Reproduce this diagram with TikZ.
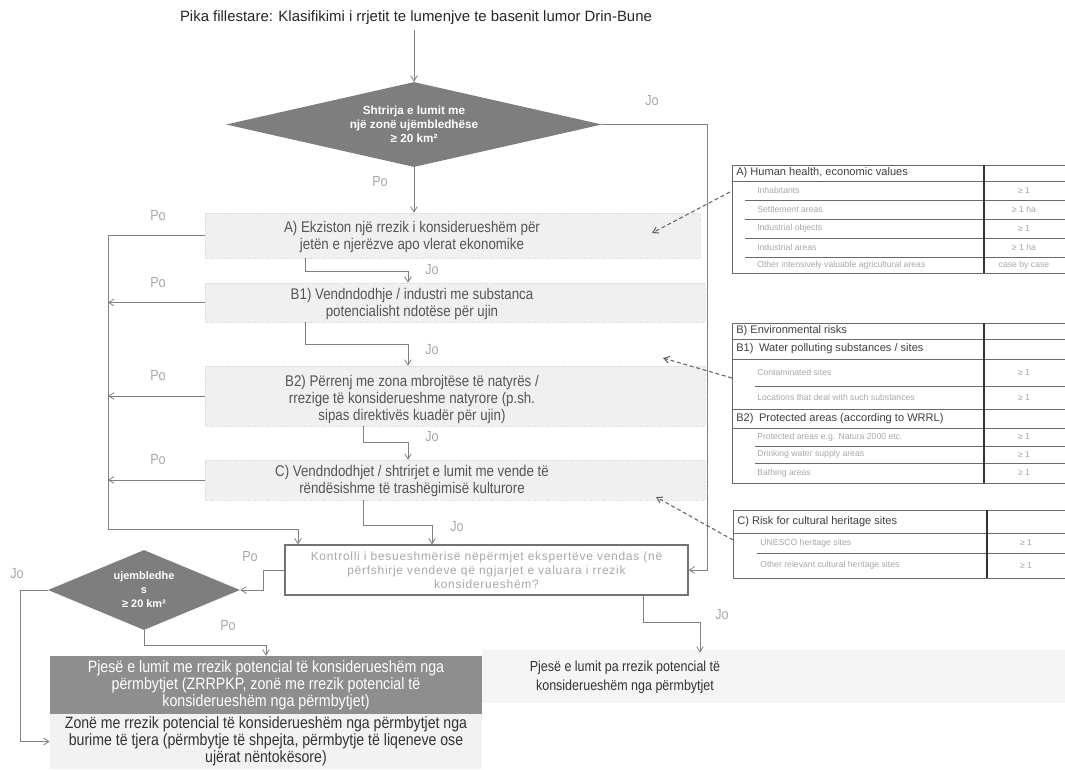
\documentclass[tikz,border=0pt]{standalone}
\usepackage{fontspec}
\setmainfont{Liberation Sans}
\newfontfamily\nar{Liberation Sans}[FakeStretch=0.86]
\newfontfamily\spaced{Liberation Sans}[LetterSpace=6]
\usetikzlibrary{shapes.geometric,arrows.meta}
\definecolor{lncol}{HTML}{808080}
\definecolor{lblcol}{HTML}{A8A8A8}
\definecolor{bandcol}{HTML}{F0F0F0}
\definecolor{dkfill}{HTML}{8E8E8E}
\definecolor{dmfill}{HTML}{7E7E7E}
\definecolor{txtcol}{HTML}{555555}
\definecolor{faint}{HTML}{A8A8A8}
\definecolor{tblcol}{HTML}{6A6A6A}
\begin{document}
\begin{tikzpicture}[x=0.75pt,y=-0.75pt,
  conn/.style={draw=lncol, line width=0.6pt},
  arr/.style={conn, -{Straight Barb[length=4pt,width=5pt]}},
  dasharr/.style={draw=black!60, line width=0.8pt, dash pattern=on 3pt off 2pt, -{Straight Barb[length=4pt,width=5pt]}},
  lbl/.style={font=\nar\fontsize{11}{12}\selectfont, text=lblcol, inner sep=0pt},
  band/.style={fill=bandcol, draw=black!15, densely dotted, inner sep=0pt},
  btxt/.style={font=\nar\fontsize{11.6}{12.75}\selectfont, text=txtcol, align=center, inner sep=0pt},
  dec/.style={diamond, fill=dmfill, draw=none, inner sep=0pt, text=white, align=center, font=\bfseries\fontsize{8.8}{10.5}\selectfont},
  ctrlbox/.style={draw=black!55, line width=0.9pt, fill=white, text=faint, align=center, font=\spaced\fontsize{9}{10.5}\selectfont},
  tline/.style={draw=tblcol, line width=0.6pt},
  thead/.style={anchor=west, font=\fontsize{8.3}{9}\selectfont, text=black!75, inner sep=0pt},
  trow/.style={anchor=west, font=\fontsize{6.5}{8}\selectfont, text=faint, inner sep=0pt},
  tval/.style={font=\fontsize{6.5}{8}\selectfont, text=faint, inner sep=0pt}
]
\useasboundingbox (0,0) rectangle (1065,769);
\fill[white] (0,0) rectangle (1065,769);
\fill[black!4] (482,650) rectangle (1065,703);

% ---------- nodes ----------
\node[font=\fontsize{11.2}{13}\selectfont, text=black!85] (title) at (416,18) {Pika fillestare: Klasifikimi i rrjetit te lumenjve te basenit lumor Drin-Bune};
\node[dec, shape aspect=4.4, minimum width={376*0.75pt}, minimum height={85*0.75pt}] (d1) at (414,124.5) {Shtrirja e lumit me\\një zonë ujëmbledhëse\\≥ 20 km²};

\node[band, minimum width={495*0.75pt}, minimum height={45*0.75pt}] (Abg) at (452.5,235.5) {};
\node[btxt] (A) at (412,236.5) {A) Ekziston një rrezik i konsiderueshëm për\\jetën e njerëzve apo vlerat ekonomike};
\node[band, minimum width={500*0.75pt}, minimum height={39*0.75pt}] (B1bg) at (455,302.5) {};
\node[btxt] (B1) at (412,304) {B1) Vendndodhje / industri me substanca\\potencialisht ndotëse për ujin};
\node[band, minimum width={500*0.75pt}, minimum height={60*0.75pt}] (B2bg) at (455,396) {};
\node[btxt] (B2) at (412,399) {B2) Përrenj me zona mbrojtëse të natyrës /\\rrezige të konsiderueshme natyrore (p.sh.\\sipas direktivës kuadër për ujin)};
\node[band, minimum width={500*0.75pt}, minimum height={40*0.75pt}] (Cbg) at (455,480) {};
\node[btxt] (C) at (412,481) {C) Vendndodhjet / shtrirjet e lumit me vende të\\rëndësishme të trashëgimisë kulturore};

\node[ctrlbox, minimum width={403*0.75pt}, minimum height={50*0.75pt}] (ctrl) at (486.5,570) {Kontrolli i besueshmërisë nëpërmjet ekspertëve vendas (në\\përfshirje vendeve që ngjarjet e valuara i rrezik\\konsiderueshëm?};

\node[dec, shape aspect=2.4, minimum width={192*0.75pt}, minimum height={80*0.75pt}, font=\bfseries\fontsize{8.2}{10.5}\selectfont] (d2) at (144,590) {ujembledhe\\s\\≥ 20 km²};

\node[fill=dkfill, minimum width={432*0.75pt}, minimum height={58*0.75pt}, text=white, align=center, font=\nar\fontsize{12.4}{12.75}\selectfont, inner sep=0pt] (dark) at (266,685) {Pjesë e lumit me rrezik potencial të konsiderueshëm nga\\përmbytjet (ZRRPKP, zonë me rrezik potencial të\\konsiderueshëm nga përmbytjet)};
\node[fill=black!5, minimum width={432*0.75pt}, minimum height={55*0.75pt}, text=black!80, align=center, font=\nar\fontsize{12.3}{12.75}\selectfont, inner sep=0pt] (bot) at (266,741.5) {Zonë me rrezik potencial të konsiderueshëm nga përmbytjet nga\\burime të tjera (përmbytje të shpejta, përmbytje të liqeneve ose\\ujërat nëntokësore)};
\node[text=black!80, align=center, font=\nar\fontsize{10.9}{14}\selectfont, inner xsep=0pt, inner ysep=6pt] (rtext) at (625,677) {Pjesë e lumit pa rrezik potencial të\\konsiderueshëm nga përmbytjet};

% labels
\node[lbl] (jo1) at (652,101) {Jo};
\node[lbl] (po1) at (380,182) {Po};
\node[lbl] (poA) at (158,216) {Po};
\node[lbl] (poB1) at (158,283) {Po};
\node[lbl] (poB2) at (158,376) {Po};
\node[lbl] (poC) at (158,460) {Po};
\node[lbl] (joA) at (432,270) {Jo};
\node[lbl] (joB1) at (432,350) {Jo};
\node[lbl] (joB2) at (432,437) {Jo};
\node[lbl] (joC) at (457,527) {Jo};
\node[lbl] (poK) at (250,557) {Po};
\node[lbl] (joD) at (17,574) {Jo};
\node[lbl] (poD) at (228,626) {Po};
\node[lbl] (joK) at (722,615) {Jo};

% helper coordinates
\coordinate (rx) at (707,0);
\coordinate (lx) at (108,0);
\coordinate (lx2) at (20,0);
\coordinate (loopc) at (0,529);
\coordinate (px) at (298,0);
\coordinate (j1) at (305,0);
\coordinate (j2) at (363,0);
\coordinate (a1) at (408,0);
\coordinate (a2) at (432,0);
\coordinate (dx) at (266,0);
\coordinate (rj) at (643,0);
\coordinate (ra) at (700,0);

% ---------- connectors ----------
\draw[arr] (title.south -| d1.north) -- (d1.north);
\draw[arr] (d1.south) -- (Abg.north -| d1.south);
\draw[arr] (d1.east) -| (rx |- ctrl.east) -- (ctrl.east);

\draw[conn] (Abg.west) -- (lx |- Abg.west);
\draw[arr] (B1bg.west) -- (lx |- B1bg.west);
\draw[arr] (B2bg.west) -- (lx |- B2bg.west);
\draw[arr] (Cbg.west) -- (lx |- Cbg.west);
\draw[arr] (lx |- Abg.west) -- (lx |- loopc) -| (ctrl.north -| px);

\draw[arr] (Abg.south -| j1) -- ++(0,13) -| (B1bg.north -| a1);
\draw[arr] (B1bg.south -| j1) -- ++(0,22) -| (B2bg.north -| a1);
\draw[arr] (B2bg.south -| j2) -- ++(0,16) -| (Cbg.north -| a1);
\draw[arr] (Cbg.south -| j2) -- ++(0,25) -| (ctrl.north -| a2);

\draw[arr] (ctrl.west) -- ++(-21,0) |- (d2.east);
\draw[arr] (d2.west) -| (lx2 |- bot.west) -- (bot.west);
\draw[arr] (d2.south) -- ++(0,15) -| (dark.north -| dx);
\draw[arr] (ctrl.south -| rj) -- ++(0,27) -| (rtext.north -| ra);

% ---------- tables ----------
% Table A
\draw[tline] (732,165) rectangle (1070,273);
\draw[tline] (732,181) -- (1070,181);
\foreach \yy in {200,219,238,257} \draw[tline] (745,\yy) -- (1070,\yy);
\draw[draw=black!80, line width=1.2pt] (984,165) -- (984,273);
\node[thead] (tAh) at (736,173) {A) Human health, economic values};
\node[trow] at (757,190.5) {Inhabitants};
\node[trow] at (757,209.5) {Settlement areas};
\node[trow] at (757,228.5) {Industrial objects};
\node[trow] at (757,247.5) {Industrial areas};
\node[trow] at (757,265) {Other intensively valuable agricultural areas};
\node[tval] at (1024,190.5) {≥ 1};
\node[tval] at (1024,209.5) {≥ 1 ha};
\node[tval] at (1024,228.5) {≥ 1};
\node[tval] at (1024,247.5) {≥ 1 ha};
\node[tval] at (1024,265) {case by case};
% Table B
\draw[tline] (732,323) rectangle (1070,483);
\foreach \yy in {339,359,409,428} \draw[tline] (732,\yy) -- (1070,\yy);
\foreach \yy in {386,446,463} \draw[tline] (755,\yy) -- (1070,\yy);
\draw[draw=black!80, line width=1.2pt] (984,323) -- (984,483);
\node[thead] (tBh) at (736,331) {B) Environmental risks};
\node[thead] at (736,349) {B1)\enspace Water polluting substances / sites};
\node[trow] at (757,372.5) {Contaminated sites};
\node[trow] at (757,397.5) {Locations that deal with such substances};
\node[thead] at (736,418.5) {B2)\enspace Protected areas (according to WRRL)};
\node[trow] at (757,437) {Protected areas e.g. Natura 2000 etc.};
\node[trow] at (757,454.5) {Drinking water supply areas};
\node[trow] at (757,473) {Bathing areas};
\node[tval] at (1024,372.5) {≥ 1};
\node[tval] at (1024,397.5) {≥ 1};
\node[tval] at (1024,437) {≥ 1};
\node[tval] at (1024,454.5) {≥ 1};
\node[tval] at (1024,473) {≥ 1};
% Table C
\draw[tline] (733,510) rectangle (1070,578);
\draw[tline] (733,533) -- (1070,533);
\draw[tline] (757,553) -- (1070,553);
\draw[draw=black!80, line width=1.2pt] (987,510) -- (987,578);
\node[thead] (tCh) at (737,521.5) {C) Risk for cultural heritage sites};
\node[trow] at (760,543) {UNESCO heritage sites};
\node[trow] at (760,565.5) {Other relevant cultural heritage sites};
\node[tval] at (1026,543) {≥ 1};
\node[tval] at (1026,565.5) {≥ 1};

% dashed pointers
\coordinate (tA) at (730,192);
\coordinate (hA) at (652,233);
\coordinate (tB) at (732,378);
\coordinate (hB) at (663,358);
\coordinate (tC) at (733,540);
\coordinate (hC) at (656,497);
\draw[dasharr] (tA) -- (hA);
\draw[dasharr] (tB) -- (hB);
\draw[dasharr] (tC) -- (hC);
\end{tikzpicture}
\end{document}
